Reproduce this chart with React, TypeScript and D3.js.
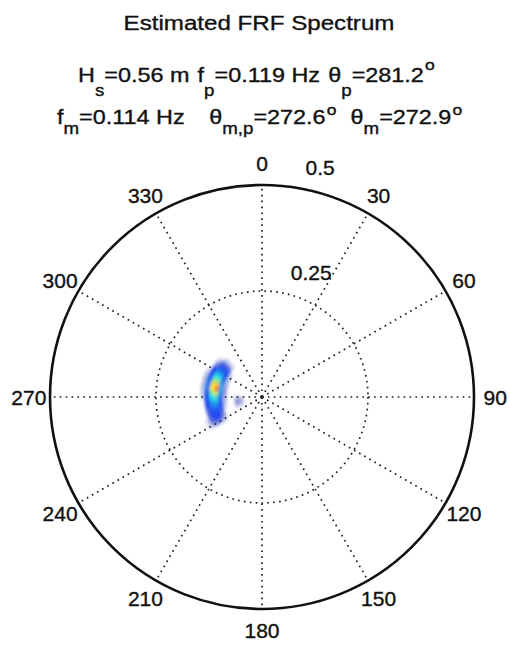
import React from 'react';
import * as d3 from 'd3';

const TITLE = 'Estimated FRF Spectrum';
const ANGLE_TICKS = [0, 30, 60, 90, 120, 150, 180, 210, 240, 270, 300, 330];
const RADIAL_TICKS = [0.25, 0.5];
const R_MAX = 0.5;

// frequency bin centres (Hz)
const FREQS = [0.05, 0.06, 0.09, 0.10, 0.11, 0.12, 0.13, 0.14];
// direction bin centres (deg, clockwise from north)
const DIRS = [235, 240, 245, 250, 255, 260, 265, 270, 275, 280, 285, 290, 295, 300, 305, 310, 315];
// normalised spectral density, rows = FREQS, cols = DIRS
const SPECTRUM = [
  [0, 0, 0, 0.02, 0.03, 0.04, 0.03, 0.02, 0, 0, 0, 0, 0, 0, 0, 0, 0],
  [0, 0, 0, 0.03, 0.05, 0.06, 0.04, 0.02, 0, 0, 0, 0, 0, 0, 0, 0, 0],
  [0, 0, 0, 0, 0.02, 0.03, 0.04, 0.05, 0.06, 0.06, 0.05, 0.04, 0.04, 0.03, 0.02, 0, 0],
  [0, 0.03, 0.06, 0.09, 0.11, 0.14, 0.17, 0.2, 0.24, 0.27, 0.26, 0.22, 0.18, 0.15, 0.12, 0.08, 0.02],
  [0, 0.06, 0.12, 0.14, 0.17, 0.24, 0.32, 0.43, 0.58, 0.76, 0.7, 0.5, 0.36, 0.25, 0.16, 0.1, 0.03],
  [0, 0.07, 0.12, 0.14, 0.17, 0.22, 0.28, 0.37, 0.48, 0.62, 0.64, 0.5, 0.38, 0.26, 0.17, 0.1, 0.03],
  [0, 0.05, 0.09, 0.1, 0.1, 0.12, 0.13, 0.15, 0.18, 0.21, 0.21, 0.18, 0.15, 0.12, 0.08, 0.04, 0],
  [0, 0.02, 0.02, 0, 0, 0, 0, 0.02, 0.03, 0.04, 0.04, 0.04, 0.03, 0, 0, 0, 0],
];

// header text pieces: [text, kind, gap before] kind: n = normal, b = subscript, p = superscript
const LINE1: [string, string, number][] = [
  ['H', 'n', 0], ['s', 'b', 0], ['=0.56 m', 'n', 0], ['f', 'n', 7], ['p', 'b', 0], ['=0.119 Hz', 'n', 0],
  ['θ', 'n', 7], ['p', 'b', 0], ['=281.2', 'n', 0], ['o', 'p', 1],
];
const LINE2: [string, string, number][] = [
  ['f', 'n', 0], ['m', 'b', 0], ['=0.114 Hz', 'n', 0], ['θ', 'n', 21], ['m,p', 'b', 0], ['=272.6', 'n', 0],
  ['o', 'p', 1], ['θ', 'n', 12], ['m', 'b', 0], ['=272.9', 'n', 0], ['o', 'p', 1],
];

const W = 510, H = 646, CX = 262, CY = 397, R = 212;
const FONT = '"Liberation Sans", Arial, Helvetica, sans-serif';
const STRETCH = 1.17;

export default function App() {
  const r = d3.scaleLinear().domain([0, R_MAX]).range([0, R]);
  const jet = d3
    .scaleLinear<string>()
    .domain([0, 0.125, 0.375, 0.625, 0.875, 1])
    .range(['#101080', '#1a3cf0', '#20e0f0', '#f8f020', '#f02010', '#800000'])
    .clamp(true);
  const arc = d3.arc();
  const df = 0.01, dd = 5;
  const rad = (deg: number) => (deg * Math.PI) / 180;

  const cells: any[] = [];
  FREQS.forEach((f, i) => {
    DIRS.forEach((d, j) => {
      const v = SPECTRUM[i][j];
      if (v <= 0) return;
      const path = arc({
        innerRadius: r(f - df / 2),
        outerRadius: r(f + df / 2),
        startAngle: rad(d - dd / 2),
        endAngle: rad(d + dd / 2),
      } as any);
      cells.push(
        <path key={`${i}-${j}`} d={path as string} fill={jet(v)} stroke={jet(v)} strokeWidth={0.6}
          opacity={Math.min(1, v / 0.13)} />
      );
    });
  });

  const main = { fontFamily: FONT, fill: '#111', stroke: '#111', strokeWidth: 0.35 };

  const header = (pieces: [string, string, number][], x0: number, base: number, sub: number, sup: number) => {
    let level = 0;
    return (
      <text transform={`translate(${x0},${base}) scale(${STRETCH},1)`} x={0} y={0} fontSize={20} {...main}
        style={{ whiteSpace: 'pre' }}>
        {pieces.map(([t, k, gap], i) => {
          const target = k === 'b' ? sub : k === 'p' ? -sup : 0;
          const dy = target - level;
          level = target;
          return (
            <tspan key={i} dx={gap} dy={dy} fontSize={k === 'n' ? 20 : k === 'b' ? 16 : 15}>{t}</tspan>
          );
        })}
      </text>
    );
  };

  return (
    <svg width={W} height={H} style={{ position: 'absolute', left: 0, top: 0, background: '#fff' }}>
      <defs>
        <filter id="blur" x="-30%" y="-30%" width="160%" height="160%">
          <feGaussianBlur stdDeviation="1.5" />
        </filter>
      </defs>
      <text transform={`translate(259,30) scale(1.15,1)`} x={0} y={0} textAnchor="middle" fontSize={21} {...main}>{TITLE}</text>
      {header(LINE1, 78, 82, 14, 12)}
      {header(LINE2, 57, 124, 10, 9)}

      <g transform={`translate(${CX},${CY})`}>
        {ANGLE_TICKS.map((a) => (
          <line key={`s${a}`} x1={0} y1={0} x2={R * Math.sin(rad(a))} y2={-R * Math.cos(rad(a))}
            stroke="#222" strokeWidth={1.7} strokeDasharray="1.7,4.2" />
        ))}
        {RADIAL_TICKS.filter((t) => t < R_MAX).map((t) => (
          <circle key={`c${t}`} r={r(t)} fill="none" stroke="#222" strokeWidth={1.7} strokeDasharray="1.7,4.2" />
        ))}
        <g filter="url(#blur)">{cells}</g>
        <circle r={r(R_MAX)} fill="none" stroke="#111" strokeWidth={2.6} />
        {ANGLE_TICKS.map((a) => (
          <text key={`l${a}`} x={R * 1.1 * Math.sin(rad(a))} y={-R * 1.1 * Math.cos(rad(a))}
            textAnchor="middle" dominantBaseline="central" fontSize={21} {...main}>{a}</text>
        ))}
        {RADIAL_TICKS.map((t) => (
          <text key={`rt${t}`} x={r(t) * Math.sin(rad(8)) + 14} y={-r(t) * Math.cos(rad(8)) - 12}
            fontSize={21} {...main}>{t}</text>
        ))}
      </g>
    </svg>
  );
}
